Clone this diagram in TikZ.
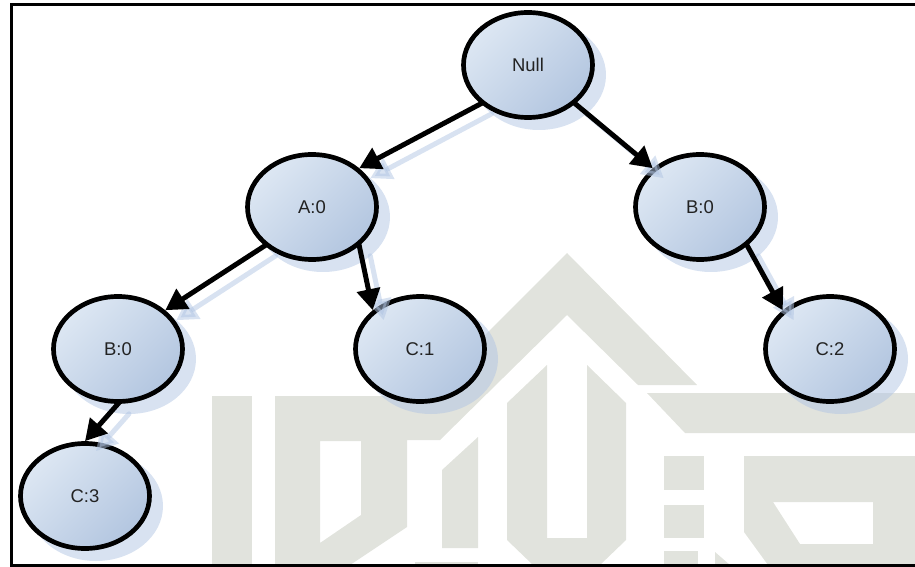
\documentclass[tikz,border=0pt]{standalone}
\usepackage{fontspec}
\setmainfont{Liberation Sans}
\usepackage{xcolor}
\usetikzlibrary{calc,arrows.meta,shapes.geometric}
\definecolor{nodelight}{HTML}{DDE7F3}
\definecolor{nodemid}{HTML}{C3D2E8}
\definecolor{nodedark}{HTML}{B3C6E0}
\definecolor{shadowblue}{HTML}{B1C5E3}
\definecolor{stamp}{HTML}{E1E3DD}
\definecolor{labeltext}{HTML}{222222}
\tikzset{
  treenode/.style={ellipse, draw=black, line width=4.7pt*0.567, minimum width=129*0.02cm, minimum height=105*0.02cm, inner sep=0pt,
    left color=nodelight, middle color=nodemid, right color=nodedark, shading angle=45, text=labeltext, font=\fontsize{10.5}{12}\selectfont},
  nodeshadow/.style={ellipse, fill=shadowblue, fill opacity=0.5, minimum width=134*0.02cm, minimum height=110*0.02cm, inner sep=0pt},
  edge/.style={draw=black, line width=5pt*0.567, -{Triangle[length=12pt,width=13pt]}, shorten <=-1pt},
  edgeshadow/.style={draw=shadowblue, draw opacity=0.5, fill opacity=0.5, line width=5pt*0.567, line cap=round, -{Triangle[length=12pt,width=13pt,fill=shadowblue]}},
  stampshape/.style={fill=stamp, draw=none, even odd rule},
}
\begin{document}
\begin{tikzpicture}[x=0.02cm, y=-0.02cm]
  \useasboundingbox (0,0) rectangle (915,567);

  % watermark
  \fill[stampshape] (212,396) rectangle (252,565);
  \fill[stampshape] (275,396) -- (424,396) -- (567,253) -- (697,385) -- (638,385) -- (567,315) -- (440,440) -- (407,440) -- (407,527) -- (350,565) -- (275,565) -- cycle
    (320,441) -- (361,441) -- (361,515) -- (320,543) -- cycle;
  \fill[stampshape] (442,470) -- (478,437) -- (478,548) -- (442,548) -- cycle;
  \fill[stampshape] (415,562) -- (478,562) -- (478,565) -- (415,565) -- cycle;
  \fill[stampshape] (507,403) -- (547,365) -- (547,538) -- (587,538) -- (587,365) -- (626,403) -- (626,540) -- (600,565) -- (533,565) -- (507,540) -- cycle;
  \fill[stampshape] (647,393) -- (915,393) -- (915,433) -- (685,433) -- cycle;
  \fill[stampshape] (664,456) rectangle (704,490);
  \fill[stampshape] (664,505) rectangle (704,538);
  \fill[stampshape] (664,551) -- (698,551) -- (698,565) -- (664,565) -- cycle;
  \fill[stampshape] (715,552) -- (730,565) -- (715,565) -- cycle;
  \fill[stampshape] (744,456) -- (915,456) -- (915,565) -- (768,565) -- (744,532) -- cycle
    (773,502) -- (873,502) -- (873,544) -- (800,544) -- cycle;

  % frame
  \draw[line width=3pt*0.567] (915,4.5) -- (11.5,4.5) -- (11.5,565.5) -- (915,565.5);

  % shadows of the nodes
  \foreach \px/\py in {528/65, 312/207, 700/207, 118/349, 420/349, 830/349, 85/496}
    \node[nodeshadow] at (\px+11,\py+10) {};

  % tree nodes
  \node[treenode] (null) at (528,65) {Null};
  \node[treenode] (a0) at (312,207) {A:0};
  \node[treenode] (b0) at (700,207) {B:0};
  \node[treenode] (b1) at (118,349) {B:0};
  \node[treenode] (c1) at (420,349) {C:1};
  \node[treenode] (c2) at (830,349) {C:2};
  \node[treenode] (c3) at (85,496) {C:3};

  % shadows of the connectors
  \foreach \from/\to in {null.south west/a0.north east, null.south east/b0.north west, a0.south west/b1.north east, a0.south east/c1.north west, b0.south east/c2.north west, b1.south/c3.north}
    \draw[edgeshadow] ([shift={(11,10)}]\from) -- ([shift={(11,10)}]\to);

  % connectors
  \draw[edge] (null.south west) -- (a0.north east);
  \draw[edge] (null.south east) -- (b0.north west);
  \draw[edge] (a0.south west) -- (b1.north east);
  \draw[edge] (a0.south east) -- (c1.north west);
  \draw[edge] (b0.south east) -- (c2.north west);
  \draw[edge] (b1.south) -- (c3.north);
\end{tikzpicture}
\end{document}
